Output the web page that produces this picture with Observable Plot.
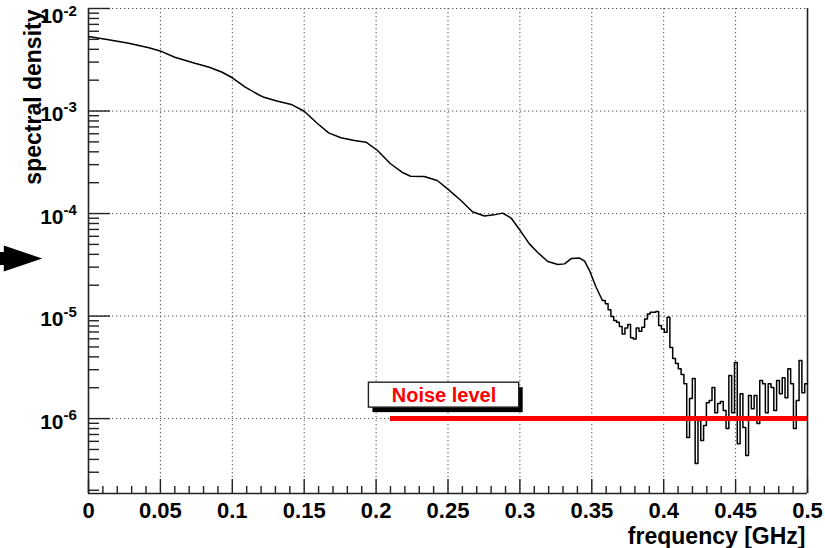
<!DOCTYPE html>
<html><head><meta charset="utf-8">
<script src="https://cdn.jsdelivr.net/npm/d3@7"></script>
<script src="https://cdn.jsdelivr.net/npm/@observablehq/plot@0.6"></script>
<style>
html,body{margin:0;padding:0;background:#fff;}
#chart{width:825px;height:548px;overflow:hidden;}
</style></head><body><div id="chart"></div>
<script>
// ---- data ----
const smoothFreq = [0, 0.014, 0.028, 0.042, 0.051, 0.060, 0.074, 0.084, 0.093, 0.100,
  0.109, 0.118, 0.122, 0.131, 0.141, 0.150, 0.159, 0.167, 0.1755, 0.185,
  0.193, 0.201, 0.210, 0.218, 0.224, 0.2335, 0.2425, 0.2497, 0.259, 0.267,
  0.2753, 0.282, 0.288, 0.2939, 0.2997, 0.3066, 0.3124, 0.3194, 0.3264, 0.331,
  0.3357, 0.3415, 0.345, 0.3484, 0.353, 0.3565];
const smoothValue = [5.33e-3, 4.95e-3, 4.58e-3, 4.14e-3, 3.80e-3, 3.35e-3, 2.92e-3, 2.67e-3, 2.39e-3, 2.11e-3,
  1.71e-3, 1.45e-3, 1.36e-3, 1.25e-3, 1.16e-3, 9.95e-4, 7.60e-4, 6.12e-4, 5.48e-4, 5.15e-4,
  4.97e-4, 4.12e-4, 3.06e-4, 2.53e-4, 2.31e-4, 2.30e-4, 2.10e-4, 1.74e-4, 1.34e-4, 1.04e-4,
  9.47e-5, 9.71e-5, 1.01e-4, 9.04e-5, 6.98e-5, 5.06e-5, 4.17e-5, 3.41e-5, 3.18e-5, 3.23e-5,
  3.64e-5, 3.68e-5, 3.44e-5, 2.78e-5, 1.91e-5, 1.51e-5];
// histogram bins (256 bins over 0..0.5 GHz), from bin 183 to 255
const nBins = 256;
const firstBin = 183;
const binValue = [1.42e-5, 1.32e-5, 1.15e-5, 9.89e-6, 9.04e-6, 8.70e-6, 7.90e-6, 6.70e-6, 7.67e-6, 8.26e-6,
  6.13e-6, 5.99e-6, 7.67e-6, 7.11e-6, 7.78e-6, 9.39e-6, 1.05e-5, 1.09e-5, 1.09e-5, 1.11e-5,
  8.08e-6, 7.50e-6, 6.95e-6, 9.73e-6, 4.93e-6, 3.85e-6, 3.44e-6, 3.07e-6, 2.69e-6, 2.19e-6,
  6.53e-7, 1.57e-6, 2.46e-6, 3.64e-7, 9.56e-7, 6.10e-7, 8.55e-7, 1.43e-6, 1.50e-6, 2.01e-6,
  1.14e-6, 1.40e-6, 1.47e-6, 1.20e-6, 7.99e-7, 2.63e-6, 1.14e-6, 3.52e-6, 5.70e-7, 1.75e-6,
  8.17e-7, 4.36e-7, 1.68e-6, 1.25e-6, 1.68e-6, 8.94e-7, 2.35e-6, 2.19e-6, 1.14e-6, 2.19e-6,
  2.01e-6, 1.20e-6, 2.35e-6, 1.75e-6, 2.51e-6, 1.60e-6, 3.07e-6, 2.19e-6, 7.99e-7, 1.50e-6,
  3.68e-6, 1.79e-6, 2.19e-6];
const noiseLevel = 1e-6;
const noiseFrom = 0.21, noiseTo = 0.5;
const noiseLabel = "Noise level";
const xMajor = [0, 0.05, 0.1, 0.15, 0.2, 0.25, 0.3, 0.35, 0.4, 0.45, 0.5];
const xTickLabels = ["0", "0.05", "0.1", "0.15", "0.2", "0.25", "0.3", "0.35", "0.4", "0.45", "0.5"];
const xMinor = [];
for (let i = 0; i <= 50; i++) if (i % 5) xMinor.push(i / 100);
const yDecades = [1e-6, 1e-5, 1e-4, 1e-3, 1e-2];
const yTickBase = "10";
const yTickExponents = ["-6", "-5", "-4", "-3", "-2"];
const yMinor = [];
for (let e = -7; e <= -3; e++) for (let k = 2; k <= 9; k++) yMinor.push(k * Math.pow(10, e));
const xTitle = "frequency [GHz]";
const yTitle = "spectral density";

// ---- layout ----
const W = 825, H = 548;
const mL = 88, mR = 18, mT = 8, mB = 55;
const yMin = 1.86e-7, yMax = 1e-2;
const pxX = 0.5 / (W - mL - mR);                       // data per px on x
const decPx = (H - mT - mB) / Math.log10(yMax / yMin);  // px per decade
const yUp = px => yMin * Math.pow(10, px / decPx);

const smooth = smoothFreq.map((f, i) => ({f, v: smoothValue[i]}));
const bins = binValue.map((v, i) => ({f: (firstBin + i) * 0.5 / nBins, v}));
bins.push({f: 0.5, v: binValue[binValue.length - 1]});
smooth.push(bins[0]);

const decLabels = yDecades.map((d, i) => ({d, e: yTickExponents[i], top: d === yMax}));

const arrowSymbol = {draw(ctx) {
  ctx.moveTo(-30, -6.5); ctx.lineTo(-16.7, -6.5); ctx.lineTo(-16.7, -13);
  ctx.lineTo(21.7, 0); ctx.lineTo(-16.7, 13); ctx.lineTo(-16.7, 6.5);
  ctx.lineTo(-30, 6.5); ctx.closePath();
}};

const grid = {stroke: "#555", strokeWidth: 1, strokeDasharray: "1.3,2.7"};
const bold = {fontWeight: "bold", fill: "black"};

const chart = Plot.plot({
  width: W, height: H,
  marginLeft: mL, marginRight: mR, marginTop: mT, marginBottom: mB,
  style: {fontFamily: "'Liberation Sans', Arial, Helvetica, sans-serif", background: "white", overflow: "visible"},
  x: {domain: [0, 0.5], axis: null},
  y: {type: "log", domain: [yMin, yMax], axis: null},
  marks: [
    Plot.ruleX(xMajor.slice(1, -1), {...grid}),
    Plot.ruleY(yDecades, {...grid}),
    // inner ticks
    Plot.ruleY(yDecades, {x1: 0, x2: 22 * pxX, stroke: "#222", strokeWidth: 1.4}),
    Plot.ruleY(yMinor.filter(d => d > yMin && d < yMax), {x1: 0, x2: 11 * pxX, stroke: "#222", strokeWidth: 1.4}),
    Plot.ruleX(xMajor, {y1: yMin, y2: yUp(14), stroke: "#222", strokeWidth: 1.4}),
    Plot.ruleX(xMinor, {y1: yMin, y2: yUp(7), stroke: "#222", strokeWidth: 1.4}),
    // frame
    Plot.ruleX([0, 0.5], {stroke: "#222", strokeWidth: 1.6}),
    Plot.ruleY([yMin], {stroke: "#222", strokeWidth: 1.6}),
    // spectrum
    Plot.line(smooth, {x: "f", y: "v", stroke: "black", strokeWidth: 1.5}),
    Plot.line(bins, {x: "f", y: "v", stroke: "black", strokeWidth: 1.5, curve: "step-after"}),
    // noise level
    Plot.ruleY([noiseLevel], {x1: noiseFrom, x2: noiseTo, stroke: "#ff0000", strokeWidth: 5}),
    Plot.rect([0], {x1: () => 0.195, x2: () => 0.2995, y1: () => 1.28e-6, y2: () => 2.24e-6, dx: 4, dy: 5, fill: "black"}),
    Plot.rect([0], {x1: () => 0.195, x2: () => 0.2995, y1: () => 1.28e-6, y2: () => 2.24e-6, fill: "white", stroke: "#222", strokeWidth: 1.4}),
    Plot.text([noiseLabel], {x: () => 0.2472, y: () => 1.66e-6, text: d => d, fill: "#ff0000", fontWeight: "bold", fontSize: 20, lineAnchor: "middle"}),
    // tick labels
    Plot.text(decLabels.filter(l => !l.top), {x: () => 0, y: "d", text: () => yTickBase, textAnchor: "end", lineAnchor: "bottom", dx: -25, dy: 10, fontSize: 21, ...bold}),
    Plot.text(decLabels.filter(l => !l.top), {x: () => 0, y: "d", text: "e", textAnchor: "start", lineAnchor: "bottom", dx: -25, dy: 1, fontSize: 15, ...bold}),
    Plot.text(decLabels.filter(l => l.top), {x: () => 0, y: "d", text: () => yTickBase, textAnchor: "end", lineAnchor: "bottom", dx: -25, dy: 14, fontSize: 21, ...bold}),
    Plot.text(decLabels.filter(l => l.top), {x: () => 0, y: "d", text: "e", textAnchor: "start", lineAnchor: "bottom", dx: -25, dy: 7, fontSize: 15, ...bold}),
    Plot.text(xMajor, {x: d => d, y: () => yMin, text: (d, i) => xTickLabels[i], lineAnchor: "bottom", dy: 24, fontSize: 22, ...bold}),
    // axis titles
    Plot.text([xTitle], {frameAnchor: "bottom-right", text: d => d, textAnchor: "end", lineAnchor: "bottom", dy: 50, dx: -2, fontSize: 23, ...bold}),
    Plot.text([yTitle], {frameAnchor: "top-left", text: d => d, rotate: -90, textAnchor: "end", lineAnchor: "bottom", dx: -48, dy: 1, fontSize: 23, ...bold}),
    // arrow marker on the left
    Plot.dot([0], {frameAnchor: "top-left", dx: -68, dy: 250, symbol: arrowSymbol, fill: "black", stroke: "none"})
  ]
});
document.getElementById("chart").appendChild(chart);
</script>
</body></html>
